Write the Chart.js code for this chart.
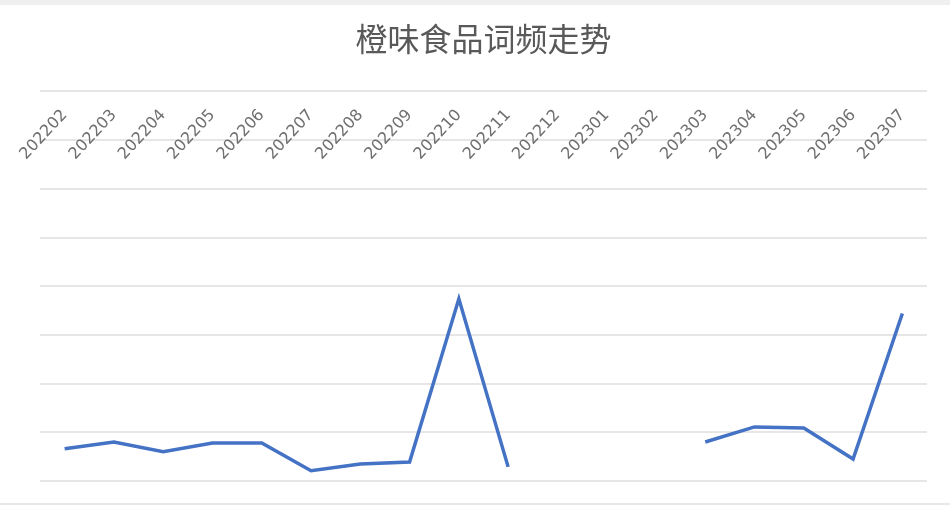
<!DOCTYPE html>
<html>
<head>
<meta charset="utf-8">
<script src="https://cdn.jsdelivr.net/npm/chart.js@4/dist/chart.umd.min.js"></script>
<style>
    html, body { margin: 0; padding: 0; background: #ffffff; }
    #wrap {
        width: 950px;
        height: 515px;
        box-sizing: border-box;
        border-top: 5px solid #efefef;
        position: relative;
    }
    #box {
        width: 950px;
        height: 500px;
        border-bottom: 2px solid #e8e8e8;
        box-sizing: border-box;
    }
</style>
</head>
<body>
<div id="wrap">
    <div id="box"><canvas id="myChart" width="950" height="500"></canvas></div>
</div>
<script>
// meses
const meses = ["202202", "202203", "202204", "202205", "202206", "202207", "202208", "202209",
    "202210", "202211", "202212", "202301", "202302", "202303", "202304", "202305", "202306", "202307"];
// frecuencia de la palabra (sin datos en 202212 - 202302)
const frecuencia = [0.66, 0.80, 0.60, 0.78, 0.78, 0.21, 0.35, 0.39, 3.74, 0.29,
    null, null, null, 0.80, 1.11, 1.09, 0.45, 3.44];
const titulo = "橙味食品词频走势";

var ctx = document.getElementById("myChart").getContext("2d");
const lienzo = new Chart(ctx, {
    type: "line",
    data: {
        labels: meses,
        datasets: [
            {
                label: "词频",
                data: frecuencia,
                borderColor: "#4472c4",
                borderWidth: 3.5,
                pointRadius: 0,
                tension: 0,
                spanGaps: false,
            },
        ],
    },
    options: {
        responsive: false,
        animation: false,
        layout: {
            padding: { left: 40, right: 23, bottom: 24, top: 0 },
        },
        plugins: {
            legend: { display: false },
            tooltip: { enabled: false },
            title: {
                display: true,
                text: titulo,
                color: "#595959",
                font: { family: "'Noto Sans CJK SC', 'Noto Sans', sans-serif", size: 32, weight: "normal" },
                padding: { top: 15, bottom: 33 },
            },
        },
        scales: {
            x: {
                position: { y: 7.95 },
                offset: true,
                grid: { display: false },
                border: { display: false },
                ticks: {
                    autoSkip: false,
                    minRotation: 47,
                    maxRotation: 47,
                    padding: 4,
                    color: "#707070",
                    font: { family: "'DejaVu Sans', sans-serif", size: 16 },
                },
            },
            y: {
                min: 0,
                max: 8,
                ticks: { display: false, stepSize: 1 },
                grid: { color: "#e6e6e6", lineWidth: 2, drawTicks: false },
                border: { display: false },
            },
        },
    },
});
</script>
</body>
</html>
